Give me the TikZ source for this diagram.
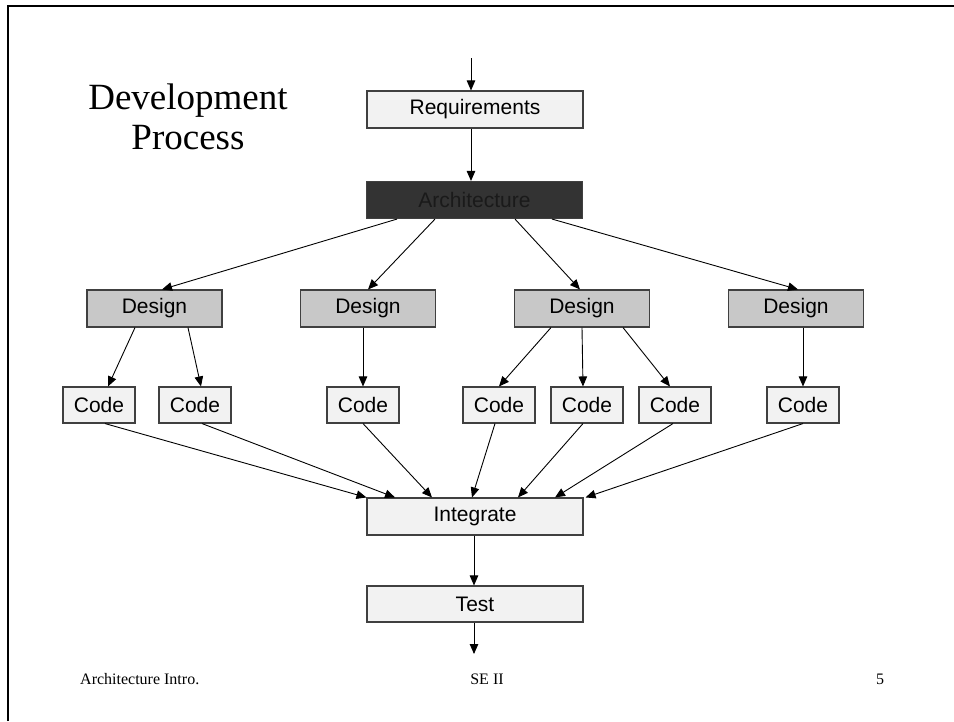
\documentclass[tikz,border=0pt]{standalone}
\usepackage{fontspec}
\setmainfont{Liberation Serif}
\newfontfamily\boxfont{Liberation Sans}
\usetikzlibrary{arrows.meta}
\definecolor{lightbox}{HTML}{F2F2F2}
\definecolor{designfill}{HTML}{C8C8C8}
\definecolor{archfill}{HTML}{333333}
\definecolor{archtext}{HTML}{1A1A1A}
\definecolor{boxline}{HTML}{404040}
\tikzset{
  stage/.style={draw=boxline, line width=1.1pt, fill=lightbox, inner sep=0pt,
    font=\boxfont\fontsize{21}{24}\selectfont},
  widebox/.style={stage, minimum width=216pt, minimum height=37pt},
  designbox/.style={stage, fill=designfill, minimum width=135pt, minimum height=37pt},
  codebox/.style={stage, minimum width=72pt, minimum height=36pt},
  flow/.style={line width=0.9pt, -{Triangle[length=10pt,width=8.5pt]}},
  footer/.style={font=\fontsize{16}{19}\selectfont, inner sep=0pt}
}
\begin{document}
\begin{tikzpicture}[x=1pt, y=-1pt]
  \useasboundingbox (0,0) rectangle (954,721);
  \fill[white] (0,0) rectangle (954,721);
  % slide frame
  \draw[line width=2.5pt] (8,721) -- (8,6) -- (954,6);

  % title
  \node[font=\fontsize{37}{40}\selectfont, align=center, inner sep=0pt] (title) at (188,117)
    {Development\\Process};

  % main chain
  \node[widebox] (req) at (475,109.5) {Requirements};
  \node[widebox, fill=archfill, text=archtext] (arch) at (474.5,200) {Architecture};

  \node[designbox] (d1) at (154.5,308.5) {Design};
  \node[designbox] (d2) at (368,308.5) {Design};
  \node[designbox] (d3) at (582,308.5) {Design};
  \node[designbox] (d4) at (796,308.5) {Design};

  \node[codebox] (c1) at (99,405) {Code};
  \node[codebox] (c2) at (195,405) {Code};
  \node[codebox] (c3) at (363,405) {Code};
  \node[codebox] (c4) at (499,405) {Code};
  \node[codebox] (c5) at (587,405) {Code};
  \node[codebox] (c6) at (675,405) {Code};
  \node[codebox] (c7) at (803,405) {Code};

  \node[widebox] (int) at (475,516.5) {Integrate};
  \node[widebox, minimum height=36pt] (test) at (475,604) {Test};

  \coordinate (in) at (471,58);
  \coordinate (out) at (474,654);

  % requirements and architecture
  \draw[flow] (in) -- (in |- req.north);
  \draw[flow] (req.south -| in) -- (arch.north -| in);

  % architecture to designs
  \draw[flow] ([xshift=-77.5pt]arch.south) -- ([xshift=7.5pt]d1.north);
  \draw[flow] ([xshift=-39.5pt]arch.south) -- (d2.north);
  \draw[flow] ([xshift=40.5pt]arch.south) -- ([xshift=-2pt]d3.north);
  \draw[flow] ([xshift=77.5pt]arch.south) -- ([xshift=2pt]d4.north);

  % designs to code
  \draw[flow] ([xshift=-19.5pt]d1.south) -- ([xshift=9pt]c1.north);
  \draw[flow] ([xshift=33.5pt]d1.south) -- ([xshift=6pt]c2.north);
  \draw[flow] (d2.south -| c3) -- (c3.north);
  \draw[flow] ([xshift=-31pt]d3.south) -- (c4.north);
  \draw[flow] (d3.south) -- ([xshift=-4pt]c5.north);
  \draw[flow] ([xshift=41pt]d3.south) -- ([xshift=-5pt]c6.north);
  \draw[flow] (d4.south -| c7) -- (c7.north);

  % code to integration
  \draw[flow] ([xshift=6pt]c1.south) -- (int.north west);
  \draw[flow] ([xshift=7pt]c2.south) -- ([xshift=-80pt]int.north);
  \draw[flow] (c3.south) -- ([xshift=-43pt]int.north);
  \draw[flow] ([xshift=-4pt]c4.south) -- ([xshift=-3pt]int.north);
  \draw[flow] ([xshift=-4pt]c5.south) -- ([xshift=43pt]int.north);
  \draw[flow] ([xshift=-2pt]c6.south) -- ([xshift=80pt]int.north);
  \draw[flow] (c7.south) -- ([xshift=2pt]int.north east);

  % integration and test
  \draw[flow] (int.south -| out) -- (test.north -| out);
  \draw[flow] (test.south -| out) -- (out);

  % footer
  \node[footer, anchor=west] (ftl) at (80,679) {Architecture Intro.};
  \node[footer] (ftc) at (487,679) {SE II};
  \node[footer] (ftr) at (880,679) {5};
\end{tikzpicture}
\end{document}
